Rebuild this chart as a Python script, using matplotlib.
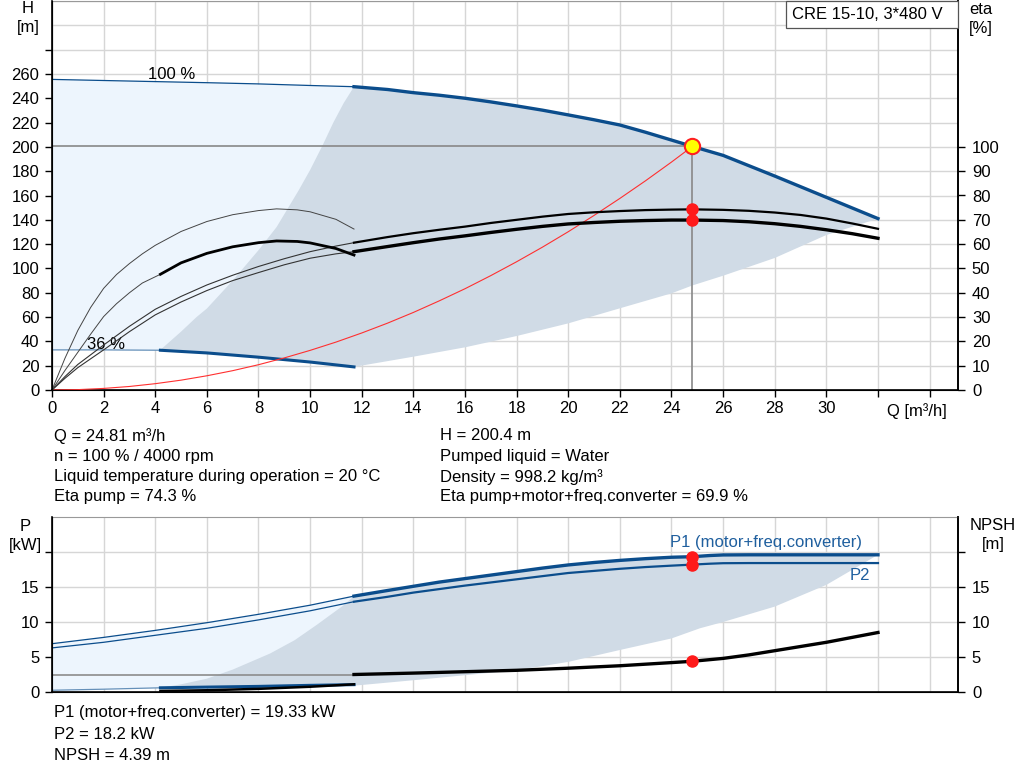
import matplotlib.pyplot as plt
from matplotlib.patches import Rectangle
import numpy as np

plt.rcParams['font.family'] = ['Liberation Sans', 'DejaVu Sans']
plt.rcParams['font.size'] = 12

BLUE = '#0b4d8c'
LIGHT = '#edf5fd'
GRAY_FILL = '#d0dbe6'
GRID = '#d6d6d6'

# --- top chart: head curves [m] ---
q100_thin = [0, 2, 4, 6, 8, 10, 11.7]
h100_thin = [255.5, 254.6, 253.7, 252.8, 251.8, 250.5, 249.5]
q100 = [11.7, 13, 14, 15, 16, 17, 18, 19, 20, 21, 22, 23, 24, 24.81, 25, 26, 28, 30, 32]
h100 = [249.5, 247.2, 244.6, 242.5, 240, 237, 233.7, 230.2, 226.3, 222.3, 218, 212,
        205.6, 200.4, 199.2, 193, 176, 158.5, 141]

q36_thin = [0, 2, 4.2]
h36_thin = [33, 33, 32.7]
q36 = [4.2, 6, 8, 10, 11.7]
h36 = [32.7, 30.5, 27, 23, 19]

# operating range boundaries
q_left = [4.2, 5, 5.6, 6, 7, 8, 8.7, 9.55, 10, 10.5, 10.9, 11.3, 11.7]
h_left = [33, 48, 60, 67, 90, 115, 134, 164, 181, 202, 220, 236, 249.5]
q_low = [11.7, 14, 16, 18, 20, 22, 24, 24.81, 26, 28, 30, 32]
h_low = [19, 27.4, 35.1, 44.4, 54.8, 67.2, 79.5, 86, 94, 108.6, 127.5, 141]

# efficiency [%]
qe_thin = [0, 0.5, 1, 2, 3, 4, 5, 6, 7, 8, 9, 10, 11, 11.7]
eta_pump_thin = [0, 5.5, 10.5, 18.5, 26.2, 33.2, 38.5, 43.2, 47.2, 50.8, 54, 56.9, 59.2, 60.6]
eta_tot_thin = [0, 4.8, 9.2, 16.5, 24, 30.9, 36.2, 40.9, 45, 48.3, 51.5, 54.2, 56, 56.9]
qe = [11.7, 13, 14, 15, 16, 17, 18, 19, 20, 21, 22, 23, 24, 24.81, 26, 27, 28, 29, 30, 31, 32]
eta_pump = [60.6, 62.9, 64.5, 65.9, 67.2, 68.7, 70, 71.3, 72.4, 73.1, 73.6, 74, 74.2, 74.3,
            74.1, 73.7, 73, 72, 70.5, 68.5, 66.3]
eta_tot = [56.9, 59, 60.6, 62.1, 63.4, 64.8, 66.1, 67.3, 68.3, 68.9, 69.4, 69.7, 69.9, 69.9,
           69.7, 69.2, 68.4, 67.3, 65.9, 64.3, 62.4]

qe36_up = [0, 0.5, 1, 1.5, 2, 2.5, 3, 3.5, 4, 5, 6, 7, 8, 8.7, 9.5, 10, 11, 11.7]
eta36_up = [0, 13, 24.5, 34, 41.8, 47.5, 52, 56, 59.5, 65.2, 69.3, 72.1, 73.8, 74.5, 74.1,
            73.3, 70.2, 66.2]
qe36_lo_thin = [0, 0.5, 1, 1.5, 2, 2.5, 3, 3.5, 4.2]
eta36_lo_thin = [0, 8, 15.5, 23, 30.2, 35.5, 40, 44, 47.6]
qe36_lo = [4.2, 5, 6, 7, 8, 8.7, 9.5, 10, 11, 11.7]
eta36_lo = [47.6, 52.3, 56.2, 58.9, 60.6, 61.3, 61.1, 60.5, 58.2, 55.5]

# system curve
q_sys = [0, 1, 2, 3, 4, 5, 6, 7, 8, 9, 10, 11, 12, 13, 14, 15, 16, 17, 18, 19, 20,
         21, 22, 23, 24, 24.81]
h_sys = [0, 0.3, 1.3, 2.9, 5.2, 8.1, 11.7, 15.9, 20.8, 26.4, 32.6, 39.4, 46.9, 55, 63.8,
         73.3, 83.3, 94.1, 105.5, 117.5, 130.2, 143.6, 157.6, 172.2, 187.5, 200.4]

q_op, h_op = 24.81, 200.4
eta_op = [74.3, 69.9]

# --- bottom chart: power [kW] and NPSH [m] ---
qp_thin = [0, 2, 4, 6, 8, 10, 11.7]
p1_thin = [6.9, 7.8, 8.8, 9.9, 11.1, 12.4, 13.7]
p2_thin = [6.3, 7.1, 8.1, 9.1, 10.3, 11.6, 12.9]
qp = [11.7, 13, 14, 15, 16, 17, 18, 19, 20, 21, 22, 23, 24, 24.81, 25.5, 26, 27, 32]
p1 = [13.7, 14.5, 15.1, 15.7, 16.2, 16.7, 17.2, 17.7, 18.15, 18.5, 18.8, 19.05, 19.25,
      19.33, 19.5, 19.58, 19.6, 19.6]
p2 = [12.9, 13.6, 14.2, 14.7, 15.2, 15.65, 16.1, 16.55, 17.0, 17.3, 17.6, 17.85, 18.05,
      18.2, 18.33, 18.4, 18.42, 18.42]

qp36_thin = [0, 2, 4.2]
p36_thin = [0.25, 0.4, 0.6]
qp36 = [4.2, 6, 8, 10, 11.7]
p36 = [0.6, 0.7, 0.8, 0.95, 1.05]

qn36 = [4.2, 6, 8, 10, 11.7]
npsh36 = [0.15, 0.25, 0.45, 0.75, 1.1]
qn_thin = [0, 11.7]
npsh_thin = [2.5, 2.5]
qn = [11.7, 14, 16, 18, 20, 22, 24, 24.81, 26, 27, 28, 29, 30, 31, 32]
npsh = [2.5, 2.7, 2.9, 3.1, 3.4, 3.75, 4.2, 4.39, 4.8, 5.3, 5.9, 6.5, 7.1, 7.8, 8.5]

qp_left = [4.2, 5, 6, 7, 8.45, 9.4, 10.26, 11.3, 11.7]
p_left = [0.6, 1.1, 1.9, 3.2, 5.5, 7.4, 9.6, 12.4, 13.7]
qp_low = [11.7, 14, 16, 18, 20, 22, 24, 25.1, 26, 28, 30, 32]
p_low = [0.9, 1.68, 2.4, 3.1, 4.3, 6.0, 7.65, 9.1, 10.0, 12.2, 15.3, 19.6]

p_op = [19.33, 18.2]
npsh_op = 4.39

fig = plt.figure(figsize=(10.24, 7.81), dpi=100)
W, H = 1024, 781


def box(l, t, r, b):
    return [l / W, (H - b) / H, (r - l) / W, (b - t) / H]


def ftext(x, y, s, **kw):
    # place text by pixel position measured from the top-left corner
    fig.text(x / W, 1 - y / H, s, **kw)


def style_axes(a):
    a.set_xlim(0, 35.1)
    a.set_xticks(np.arange(0, 35, 2))
    a.grid(True, color=GRID, lw=1)
    a.set_axisbelow(True)
    for s in ['left', 'bottom', 'right']:
        a.spines[s].set_color('black')
        a.spines[s].set_linewidth(1.2)
    a.spines['top'].set_color('#999999')
    a.tick_params(direction='out', length=5, width=1, pad=4)


# ================= top chart =================
ax = fig.add_axes(box(52, 1, 958, 390))
style_axes(ax)
ax.set_ylim(0, 320)
ax.set_yticks(np.arange(0, 281, 20))
ax.set_yticklabels([str(v) if v <= 260 else '' for v in range(0, 281, 20)])
ax.set_yticks(np.arange(0, 321, 20), minor=True)
ax.tick_params(axis='y', which='minor', length=0)
ax.grid(True, which='minor', axis='y', color=GRID, lw=1)
ax.set_xticklabels([str(v) if v <= 30 else '' for v in range(0, 35, 2)])
ax.tick_params(axis='x', pad=3)

# shaded regions
h36_at = np.interp(q100_thin, q36_thin + q36[1:], h36_thin + h36[1:])
ax.fill_between(q100_thin, h36_at, h100_thin, color=LIGHT, lw=0, zorder=1)
poly_q = q_left + q100[1:] + q_low[::-1] + q36[::-1][1:]
poly_h = h_left + h100[1:] + h_low[::-1] + h36[::-1][1:]
ax.fill(poly_q, poly_h, color=GRAY_FILL, lw=0, zorder=1.5)

ax.plot(q100_thin, h100_thin, color=BLUE, lw=0.9, zorder=3)
ax.plot(q100, h100, color=BLUE, lw=2.4, zorder=3)
ax.plot(q36_thin, h36_thin, color=BLUE, lw=0.9, alpha=0.6, zorder=3)
ax.plot(q36, h36, color=BLUE, lw=2.2, zorder=3)
ax.plot(q_sys, h_sys, color='#ff3030', lw=0.8, zorder=3)

ax.plot([0, q_op], [h_op, h_op], color='#888888', lw=1.2, zorder=2)
ax.plot([q_op, q_op], [0, h_op], color='#888888', lw=1.2, zorder=2)
ax.plot(q_op, h_op, 'o', ms=11, mfc='#ffff00', mec='#ff2020', mew=1.5, zorder=6)

ax.text(3.7, 256, '100 %')
ax.text(1.35, 34, '36 %')
ax.text(33.5, -17, 'Q [m³/h]', ha='center', va='center')

ftext(28, 18, 'H\n[m]', ha='center', va='center', linespacing=1.3)
ftext(981, 19, 'eta\n[%]', ha='center', va='center', linespacing=1.3)
fig.patches.append(Rectangle((786 / W, 1 - 28 / H), 172 / W, 27 / H, transform=fig.transFigure,
                             fc='white', ec='#555555', lw=0.9, zorder=10))
ftext(792, 14.5, 'CRE 15-10, 3*480 V', va='center', zorder=11)

ax2 = ax.twinx()
ax2.set_ylim(0, 160)
ax2.set_yticks(np.arange(0, 101, 10))
ax2.tick_params(direction='out', length=5, width=1, pad=5)
ax2.spines['right'].set_linewidth(1.2)
ax2.spines['top'].set_visible(False)
ax2.plot(qe_thin, eta_pump_thin, color='#333333', lw=0.8)
ax2.plot(qe_thin, eta_tot_thin, color='#333333', lw=0.8)
ax2.plot(qe, eta_pump, color='black', lw=1.6)
ax2.plot(qe, eta_tot, color='black', lw=2.4)
ax2.plot(qe36_up, eta36_up, color='#444444', lw=0.7)
ax2.plot(qe36_lo_thin, eta36_lo_thin, color='#444444', lw=0.7)
ax2.plot(qe36_lo, eta36_lo, color='black', lw=2.0)
ax2.plot([q_op, q_op], eta_op, 'o', color='#ff1a1a', ms=8, zorder=5)

# info text
info_left = ['Q = 24.81 m³/h', 'n = 100 % / 4000 rpm',
             'Liquid temperature during operation = 20 °C', 'Eta pump = 74.3 %']
info_right = ['H = 200.4 m', 'Pumped liquid = Water', 'Density = 998.2 kg/m³',
              'Eta pump+motor+freq.converter = 69.9 %']
for i, (a, b) in enumerate(zip(info_left, info_right)):
    ftext(54, 436 + i * 20.3, a, va='center')
    ftext(440, 436 + i * 20.3, b, va='center')

# ================= bottom chart =================
bx = fig.add_axes(box(52, 517, 958, 692))
style_axes(bx)
bx.set_ylim(0, 25)
bx.set_yticks([0, 5, 10, 15, 20])
bx.set_yticklabels(['0', '5', '10', '15', ''])
bx.set_xticklabels([])
bx.tick_params(axis='x', length=0)

p36_at = np.interp(qp_thin, qp36_thin + qp36[1:], p36_thin + p36[1:])
bx.fill_between(qp_thin, p36_at, p1_thin, color=LIGHT, lw=0, zorder=1)
bpoly_q = qp_left + qp[1:] + qp_low[::-1] + qp36[::-1][1:]
bpoly_p = p_left + p1[1:] + p_low[::-1] + p36[::-1][1:]
bx.fill(bpoly_q, bpoly_p, color=GRAY_FILL, lw=0, zorder=1.5)

bx.plot(qp_thin, p1_thin, color=BLUE, lw=0.9, zorder=3)
bx.plot(qp_thin, p2_thin, color=BLUE, lw=0.9, zorder=3)
bx.plot(qp, p1, color=BLUE, lw=2.4, zorder=3)
bx.plot(qp, p2, color=BLUE, lw=1.6, zorder=3)
bx.plot(qp36_thin, p36_thin, color=BLUE, lw=0.9, alpha=0.6, zorder=3)
bx.plot(qp36, p36, color=BLUE, lw=2.2, zorder=3)
bx.plot([q_op, q_op], p_op, 'o', color='#ff1a1a', ms=8, zorder=5)
bx.text(23.95, 21.4, 'P1 (motor+freq.converter)', color='#1f5f9e', va='center')
bx.text(30.9, 16.7, 'P2', color='#1f5f9e', va='center')
ftext(25, 536, 'P\n[kW]', ha='center', va='center', linespacing=1.3)
ftext(993, 535, 'NPSH\n[m]', ha='center', va='center', linespacing=1.3)

bx2 = bx.twinx()
bx2.set_ylim(0, 25)
bx2.set_yticks([0, 5, 10, 15, 20])
bx2.set_yticklabels(['0', '5', '10', '15', ''])
bx2.tick_params(direction='out', length=5, width=1, pad=5)
bx2.spines['right'].set_linewidth(1.2)
bx2.spines['top'].set_visible(False)
bx2.plot(qn_thin, npsh_thin, color='#8c8c8c', lw=1.2)
bx2.plot(qn36, npsh36, color='black', lw=1.8)
bx2.plot(qn, npsh, color='black', lw=2.4)
bx2.plot(q_op, npsh_op, 'o', color='#ff1a1a', ms=8, zorder=5)

info_bottom = ['P1 (motor+freq.converter) = 19.33 kW', 'P2 = 18.2 kW', 'NPSH = 4.39 m']
for i, t in enumerate(info_bottom):
    ftext(54, 713 + i * 21.5, t, va='center')

fig.savefig('out.png', dpi=100)
